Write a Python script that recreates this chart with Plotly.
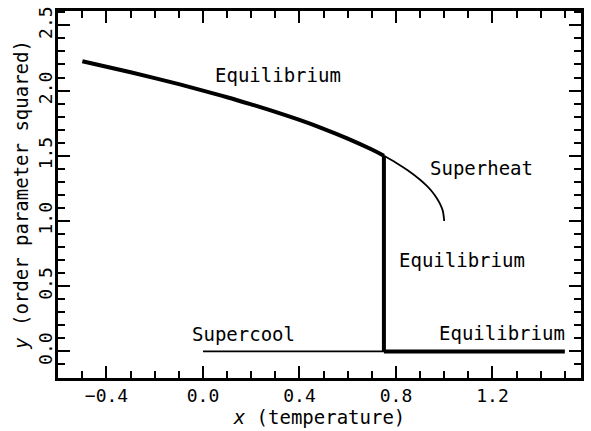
import plotly.graph_objects as go

# Upper (ordered) equilibrium branch, from low temperature up to the transition
eq_upper_x = [-0.5, -0.4, -0.3, -0.2, -0.1, 0.0, 0.1, 0.2, 0.3, 0.4, 0.5, 0.6, 0.7, 0.75]
eq_upper_y = [2.225, 2.183, 2.140, 2.095, 2.049, 2.000, 1.949, 1.894, 1.837, 1.775, 1.707, 1.632, 1.548, 1.500]

# Jump at the transition temperature
jump_x = [0.75, 0.75]
jump_y = [1.5, 0.0]

# Disordered equilibrium branch above the transition
eq_lower_x = [0.75, 1.5]
eq_lower_y = [0.0, 0.0]

# Metastable superheated branch
superheat_x = [0.75, 0.8, 0.85, 0.9, 0.93, 0.95, 0.97, 0.98, 0.99, 0.995, 1.0]
superheat_y = [1.500, 1.447, 1.387, 1.316, 1.265, 1.224, 1.173, 1.141, 1.100, 1.071, 1.0]

# Metastable supercooled branch
supercool_x = [0.0, 0.75]
supercool_y = [0.0, 0.0]

labels = ["Equilibrium", "Superheat", "Equilibrium", "Supercool", "Equilibrium"]
label_x = [0.313, 1.153, 1.075, 0.168, 1.24]
label_y = [2.12, 1.41, 0.70, 0.135, 0.14]

FONT = "DejaVu Sans Mono"
THICK = 4
THIN = 1.8

fig = go.Figure()
fig.add_trace(go.Scatter(x=superheat_x, y=superheat_y, mode="lines",
                         line=dict(color="black", width=THIN, shape="spline")))
fig.add_trace(go.Scatter(x=supercool_x, y=supercool_y, mode="lines",
                         line=dict(color="black", width=THIN)))
fig.add_trace(go.Scatter(x=eq_upper_x, y=eq_upper_y, mode="lines",
                         line=dict(color="black", width=THICK, shape="spline")))
fig.add_trace(go.Scatter(x=jump_x, y=jump_y, mode="lines",
                         line=dict(color="black", width=THICK)))
fig.add_trace(go.Scatter(x=eq_lower_x, y=eq_lower_y, mode="lines",
                         line=dict(color="black", width=THICK)))

for t, x, y in zip(labels, label_x, label_y):
    fig.add_annotation(x=x, y=y, text=t, showarrow=False,
                       xanchor="center", yanchor="middle",
                       font=dict(family=FONT, size=19, color="black"))

axis_common = dict(
    showgrid=False, zeroline=False,
    showline=True, linecolor="black", linewidth=2.5, mirror="allticks",
    ticks="inside", ticklen=12, tickwidth=2, tickcolor="black",
    tickfont=dict(family=FONT, size=18, color="black"),
    tickformat=".1f",
)

fig.update_xaxes(
    **axis_common,
    range=[-0.601, 1.567], tick0=0, dtick=0.4,
    minor=dict(ticks="inside", ticklen=7, tickwidth=2, tickcolor="black", dtick=0.1, tick0=0),
    title=dict(text="<i>x</i> (temperature)", font=dict(family=FONT, size=19, color="black"),
               standoff=4),
)
fig.update_yaxes(
    **axis_common,
    range=[-0.204, 2.61], tick0=0, dtick=0.5, tickangle=-90,
    ticklabelstandoff=-4,
    minor=dict(ticks="inside", ticklen=7, tickwidth=2, tickcolor="black", dtick=0.1, tick0=0),
    title=dict(text="<i>y</i> (order parameter squared)", font=dict(family=FONT, size=19, color="black"),
               standoff=2),
)

fig.update_layout(
    width=591, height=431,
    margin=dict(l=58, r=9, t=7, b=47),
    paper_bgcolor="white", plot_bgcolor="white",
    showlegend=False,
)

fig.write_html("out.html")
